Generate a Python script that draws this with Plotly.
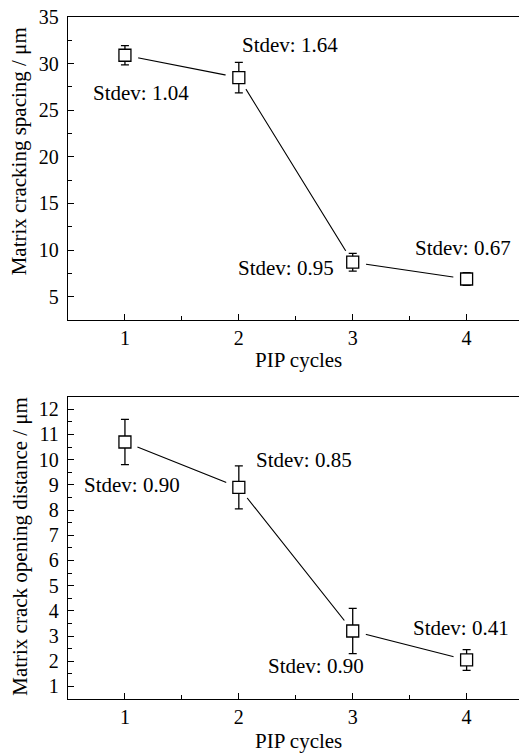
import plotly.graph_objects as go

# Data
pip_cycles = [1, 2, 3, 4]
spacing = [30.9, 28.5, 8.7, 6.9]
spacing_sd = [1.04, 1.64, 0.95, 0.67]
opening = [10.7, 8.9, 3.2, 2.05]
opening_sd = [0.90, 0.85, 0.90, 0.41]

top_labels = ["Stdev: 1.04", "Stdev: 1.64", "Stdev: 0.95", "Stdev: 0.67"]
top_lab_x = [1.14, 2.45, 2.41, 3.965]
top_lab_y = [26.9, 32.0, 8.1, 10.2]
bot_labels = ["Stdev: 0.90", "Stdev: 0.85", "Stdev: 0.90", "Stdev: 0.41"]
bot_lab_x = [1.06, 2.57, 2.68, 3.947]
bot_lab_y = [9.0, 10.0, 1.8, 3.3]

FONT = "Liberation Serif"
fig = go.Figure()

def add_series(y, sd, xa, ya):
    fig.add_trace(go.Scatter(x=pip_cycles, y=y, mode="lines",
                             line=dict(color="black", width=1.1),
                             xaxis=xa, yaxis=ya, showlegend=False, hoverinfo="skip"))
    fig.add_trace(go.Scatter(x=pip_cycles, y=y, mode="markers",
                             marker=dict(symbol="circle", size=27, color="white",
                                         line=dict(width=0)),
                             xaxis=xa, yaxis=ya, showlegend=False, hoverinfo="skip"))
    fig.add_trace(go.Scatter(x=pip_cycles, y=y, mode="markers",
                             marker=dict(symbol="square", size=12, color="white",
                                         line=dict(color="black", width=1.3)),
                             error_y=dict(type="data", array=sd, visible=True,
                                          color="black", thickness=1.3, width=4),
                             xaxis=xa, yaxis=ya, showlegend=False))

add_series(spacing, spacing_sd, "x", "y")
add_series(opening, opening_sd, "x2", "y2")

for txt, x, y in zip(top_labels, top_lab_x, top_lab_y):
    fig.add_annotation(x=x, y=y, xref="x", yref="y", text=txt, showarrow=False,
                       font=dict(family=FONT, size=21, color="black"))
for txt, x, y in zip(bot_labels, bot_lab_x, bot_lab_y):
    fig.add_annotation(x=x, y=y, xref="x2", yref="y2", text=txt, showarrow=False,
                       font=dict(family=FONT, size=21, color="black"))

# Axis titles as annotations
fig.add_annotation(text="Matrix cracking spacing / μm", textangle=-90,
                   xref="paper", yref="paper", x=-0.108, y=0.8035, xanchor="center",
                   yanchor="middle", showarrow=False,
                   font=dict(family=FONT, size=21, color="black"))
fig.add_annotation(text="Matrix crack opening distance / μm", textangle=-90,
                   xref="paper", yref="paper", x=-0.108, y=0.2236, xanchor="center",
                   yanchor="middle", showarrow=False,
                   font=dict(family=FONT, size=21, color="black"))
fig.add_annotation(text="PIP cycles", xref="paper", yref="paper",
                   x=0.51, y=0.5557, yshift=-40, xanchor="center", yanchor="middle",
                   showarrow=False, font=dict(family=FONT, size=21, color="black"))
fig.add_annotation(text="PIP cycles", xref="paper", yref="paper",
                   x=0.51, y=0.0, yshift=-42, xanchor="center", yanchor="middle",
                   showarrow=False, font=dict(family=FONT, size=21, color="black"))

xcommon = dict(range=[0.5, 4.46], tickmode="array", tickvals=pip_cycles,
               ticks="inside", ticklen=6, tickwidth=1, tickcolor="black",
               showline=True, linecolor="black", linewidth=1.3, mirror=True,
               showgrid=False, zeroline=False,
               minor=dict(tickmode="array", tickvals=[1.5, 2.5, 3.5],
                          ticks="inside", ticklen=4, tickcolor="black"),
               tickfont=dict(family=FONT, size=20, color="black"))
ycommon = dict(ticks="inside", ticklen=6, tickwidth=1, tickcolor="black",
               showline=True, linecolor="black", linewidth=1.3, mirror=False,
               showgrid=False, zeroline=False, ticklabelstandoff=4,
               tickfont=dict(family=FONT, size=20, color="black"))

fig.update_layout(
    width=519, height=756,
    margin=dict(l=68, r=0, t=17, b=57),
    paper_bgcolor="white", plot_bgcolor="white",
    font=dict(family=FONT),
    xaxis=dict(domain=[0, 1], anchor="y", **xcommon),
    yaxis=dict(domain=[0.5557, 1], anchor="x", range=[2.5, 35],
               tickvals=[5, 10, 15, 20, 25, 30, 35],
               minor=dict(dtick=2.5, tick0=0, ticks="inside", ticklen=4, tickcolor="black"),
               **ycommon),
    xaxis2=dict(domain=[0, 1], anchor="y2", **xcommon),
    yaxis2=dict(domain=[0, 0.4433], anchor="x2", range=[0.5, 12.5],
                tickvals=list(range(1, 13)),
                minor=dict(dtick=0.5, tick0=0, ticks="inside", ticklen=4, tickcolor="black"),
                **ycommon),
)

fig.write_html("out.html")
